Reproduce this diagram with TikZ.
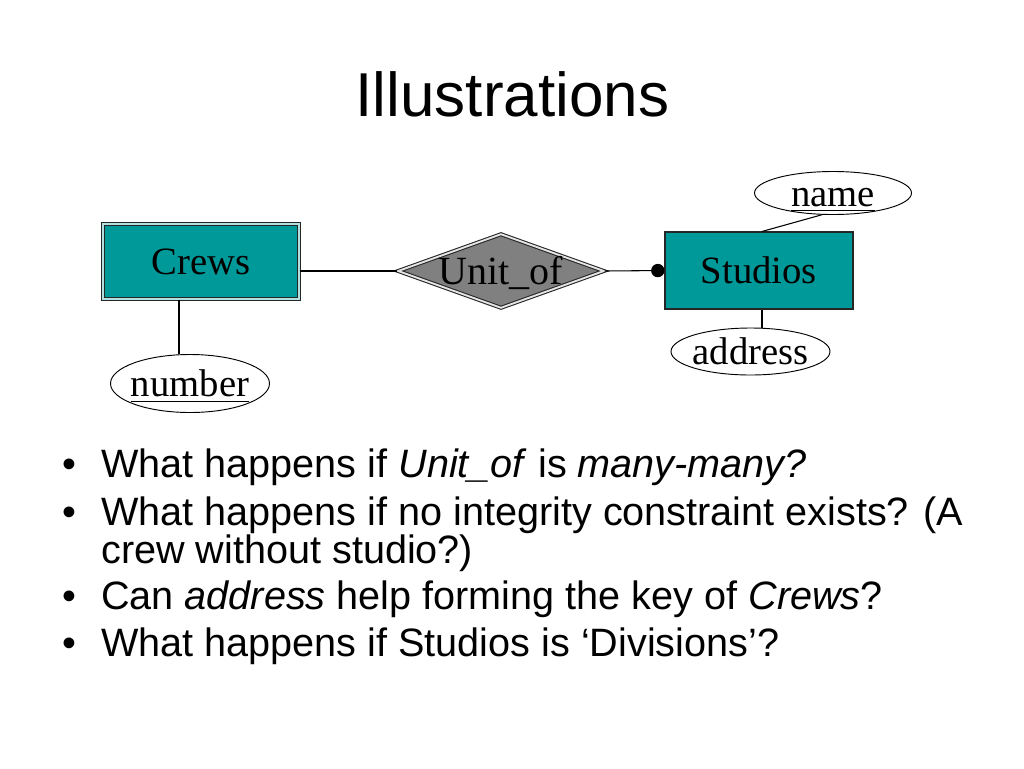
\documentclass[tikz,border=0pt]{standalone}
\usepackage{fontspec}
\setmainfont{Liberation Serif}
\newfontfamily\sansf{Liberation Sans}
\usetikzlibrary{shapes.geometric,arrows.meta,calc}
\definecolor{erteal}{RGB}{0,153,153}
\definecolor{ergray}{RGB}{128,128,128}
\newcommand\ctr[1]{\smash{\makebox[0pt]{\raisebox{-10pt}{#1}}}}
\newcommand\keyattr[1]{\setbox0\hbox{#1}\rlap{\rule[-3.6pt]{\wd0}{0.8pt}}\box0}
\begin{document}
\begin{tikzpicture}[x=0.75pt,y=-0.75pt,
  line/.style={draw=black, line width=0.8pt},
  entity/.style={rectangle, draw=black!85, fill=erteal, inner sep=0pt, font=\fontsize{29}{32}\selectfont},
  weakentity/.style={entity, double=white!70!erteal, double distance=1.4pt, line width=0.8pt},
  rel/.style={diamond, draw=black!85, fill=ergray, inner sep=0pt, double=white!80!gray, double distance=1.4pt, line width=0.8pt, font=\fontsize{30}{33}\selectfont},
  attr/.style={ellipse, draw=black, fill=white, inner sep=0pt, line width=0.7pt, font=\fontsize{29}{32}\selectfont},
  bullettext/.style={anchor=base west, inner sep=0pt, font=\sansf\fontsize{29.7}{33}\selectfont},
  bulletdot/.style={anchor=base west, inner sep=0pt, font=\sansf\fontsize{29.7}{33}\selectfont}
]
\useasboundingbox[fill=white] (0,0) rectangle (1024,768);

\node[anchor=base, inner sep=0pt, font=\sansf\fontsize{46.5}{50}\selectfont] (title) at (512.5,116.7) {Illustrations};

\node[weakentity, minimum width=147pt, minimum height=56.25pt] (Crews) at (201,261.5) {\ctr{Crews}};
\node[rel, minimum width=154.5pt, minimum height=55.5pt] (Unit) at (501,271) {\ctr{Unit\_of}};
\node[entity, line width=0.8pt, minimum width=141pt, minimum height=57.75pt] (Studios) at (759,270.5) {\ctr{Studios}};

\node[attr, minimum width=117.75pt, minimum height=32.25pt] (name) at (833,193) {\ctr{\keyattr{name}}};
\node[attr, minimum width=119.25pt, minimum height=35.25pt] (address) at (750.5,351.5) {\ctr{address}};
\node[attr, minimum width=119.25pt, minimum height=43.5pt] (number) at (190,383.5) {\ctr{\keyattr{number}}};

\draw[line] (Crews.east |- Unit.west) -- (Unit.west);
\draw[line,-{Circle[length=10pt]}] (Unit.east) -- (Studios.west);
\draw[line] ([xshift=2.25pt]Studios.north) -- (name.243);
\draw[line] ([xshift=2.25pt]Studios.south) -- ([xshift=2.25pt]Studios.south |- address.north);
\draw[line] ([xshift=-16.5pt]Crews.south) -- ([xshift=-16.5pt]Crews.south |- number.north);

\node[bulletdot] (b1) at (62,477) {•};
\node[bullettext] (t1) at (101,477) {What happens if \textit{Unit\_of} is \textit{many-many?}};
\node[bulletdot] (b2) at (62,525) {•};
\node[bullettext] (t2) at (101,525) {What happens if no integrity constraint exists? (A};
\node[bullettext] (t2b) at (101,563) {crew without studio?)};
\node[bulletdot] (b3) at (62,609) {•};
\node[bullettext] (t3) at (101,609) {Can \textit{address} help forming the key of \textit{Crews}?};
\node[bulletdot] (b4) at (62,656) {•};
\node[bullettext] (t4) at (101,656) {What happens if Studios is ‘Divisions’?};
\end{tikzpicture}
\end{document}
